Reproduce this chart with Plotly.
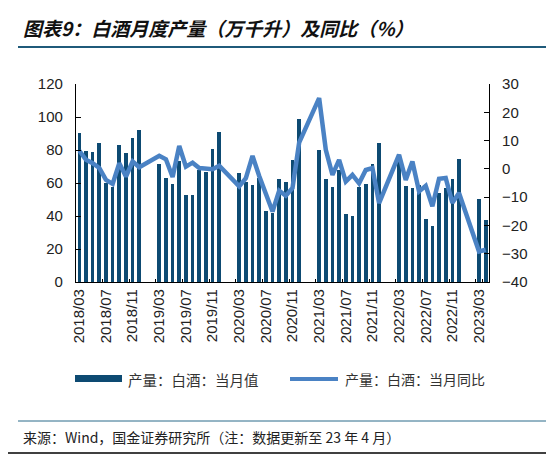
import plotly.graph_objects as go

months = [f"{y}/{m:02d}" for y in range(2018, 2024) for m in range(1, 13)]
months = months[months.index("2018/03"):months.index("2023/04") + 1]

# 当月值 (万千升) ; None = Jan/Feb not published
output = {
    "2018": [90.5, 79.4, 78.8, 84.0, 59.8, 57.8, 82.8, 78.0, 87.5, 92.0],
    "2019": [71.3, 63.2, 59.2, 73.3, 52.7, 52.9, 67.9, 66.9, 80.4, 91.1],
    "2020": [66.0, 60.6, 58.8, 63.2, 43.0, 41.6, 62.2, 60.4, 73.9, 98.6],
    "2021": [79.8, 62.2, 57.4, 67.9, 41.2, 40.0, 57.4, 59.4, 71.5, 84.4],
    "2022": [77.0, 58.2, 56.8, 58.6, 38.0, 34.1, 54.1, 57.2, 62.4, 74.5],
    "2023": [50.3, 37.6],
}
# 当月同比 (%)
yoy = {
    "2018": [6.4, 3.2, 2.0, 0.3, -3.9, -5.3, 2.0, -2.7, 2.6, 0.6],
    "2019": [4.6, 3.4, -2.9, 8.1, 0.8, 2.2, 0.3, -0.1, -0.1, 1.1],
    "2020": [-6.2, -3.3, 4.6, -2.5, -9.2, -15.1, -7.7, -9.5, -6.8, 9.3],
    "2021": [25.0, 6.7, -2.1, 3.2, -4.5, -2.1, -5.1, -0.4, 0.3, -12.1],
    "2022": [5.0, -3.9, 2.6, -8.0, -6.0, -13.2, -3.5, -3.2, -12.0, -8.5],
    "2023": [-29.2, -28.6],
}
tick_labels = months[::4]


def expand(d):
    vals = []
    for mth in months:
        y, m = mth.split("/")
        m = int(m)
        if m <= 2:
            vals.append(None)
        else:
            vals.append(d[y][m - 3])
    return vals


bar_vals = expand(output)
line_vals = expand(yoy)

BAR_C = "#0d4a72"
LINE_C = "#4a82c4"
AX_FONT = dict(family="Liberation Sans, Arial, sans-serif", size=15, color="#222")
CJK = "Noto Sans CJK SC, sans-serif"

# page body has an 8px margin; plot area in window: x 76..489, y 84..282
OFF = 8
L, T, PW, PH = 76, 84, 413, 198

fig = go.Figure()
fig.add_trace(go.Bar(x=months, y=bar_vals, name="产量：白酒：当月值",
                     marker=dict(color=BAR_C, line=dict(width=0)), width=0.55))
fig.add_trace(go.Scatter(x=months, y=line_vals, name="产量：白酒：当月同比", yaxis="y2",
                         mode="lines", connectgaps=True,
                         line=dict(color=LINE_C, width=4.5)))

fig.update_layout(
    width=554 - OFF, height=455 - OFF,
    margin=dict(l=L - OFF, r=554 - L - PW, t=T - OFF, b=455 - T - PH, autoexpand=False),
    paper_bgcolor="white", plot_bgcolor="white",
    showlegend=False, bargap=0,
    xaxis=dict(type="category", range=[-0.5, len(months) - 0.5],
               tickmode="array", tickvals=tick_labels, ticktext=tick_labels,
               tickson="boundaries", ticks="inside", ticklen=3, tickcolor="#000",
               tickangle=-90, tickfont=AX_FONT, showline=True, linecolor="#000",
               linewidth=1.2, showgrid=False, automargin=False),
    yaxis=dict(range=[0, 120], dtick=20, ticks="inside", ticklen=5, tickcolor="#000",
               showline=True, linecolor="#000", linewidth=1.2, showgrid=False,
               zeroline=False, tickfont=AX_FONT, ticklabelstandoff=9, automargin=False),
    yaxis2=dict(range=[-40, 30], dtick=10, overlaying="y", side="right",
                ticks="inside", ticklen=5, tickcolor="#000", showline=True,
                linecolor="#000", linewidth=1.2, showgrid=False, zeroline=False,
                tickfont=AX_FONT, ticklabelstandoff=9, automargin=False),
)


def px(x):
    return (x - L) / PW


def py(y):
    return (T + PH - y) / PH


shapes = [
    dict(type="line", xref="paper", yref="paper", x0=px(18), x1=px(554),
         y0=py(47), y1=py(47), line=dict(color="#1f5a7a", width=2)),
    dict(type="line", xref="paper", yref="paper", x0=px(18), x1=px(554),
         y0=py(421), y1=py(421), line=dict(color="#2a6a8a", width=1)),
    dict(type="line", xref="paper", yref="paper", x0=px(0), x1=px(554),
         y0=py(453), y1=py(453), line=dict(color="#000", width=1.5)),
    # legend symbols
    dict(type="rect", xref="paper", yref="paper", x0=px(75), x1=px(122),
         y0=py(382), y1=py(375), fillcolor=BAR_C, line=dict(width=0)),
    dict(type="line", xref="paper", yref="paper", x0=px(290), x1=px(338),
         y0=py(379), y1=py(379), line=dict(color=LINE_C, width=4)),
]

annotations = [
    dict(text="<b><i>图表9：白酒月度产量（万千升）及同比（%）</i></b>", xref="paper", yref="paper",
         x=px(21), y=py(28), xanchor="left", yanchor="middle", showarrow=False,
         font=dict(family=CJK, size=19, color="#111")),
    dict(text="产量：白酒：当月值", xref="paper", yref="paper",
         x=px(126), y=py(379), xanchor="left", yanchor="middle", showarrow=False,
         font=dict(family=CJK, size=14.5, color="#333")),
    dict(text="产量：白酒：当月同比", xref="paper", yref="paper",
         x=px(343), y=py(379), xanchor="left", yanchor="middle", showarrow=False,
         font=dict(family=CJK, size=14, color="#333")),
    dict(text="来源：Wind，国金证券研究所（注：数据更新至 23 年 4 月）", xref="paper", yref="paper",
         x=px(21), y=py(437), xanchor="left", yanchor="middle", showarrow=False,
         font=dict(family=CJK, size=14, color="#222")),
]
fig.update_layout(shapes=shapes, annotations=annotations)

fig.write_html("out.html")
